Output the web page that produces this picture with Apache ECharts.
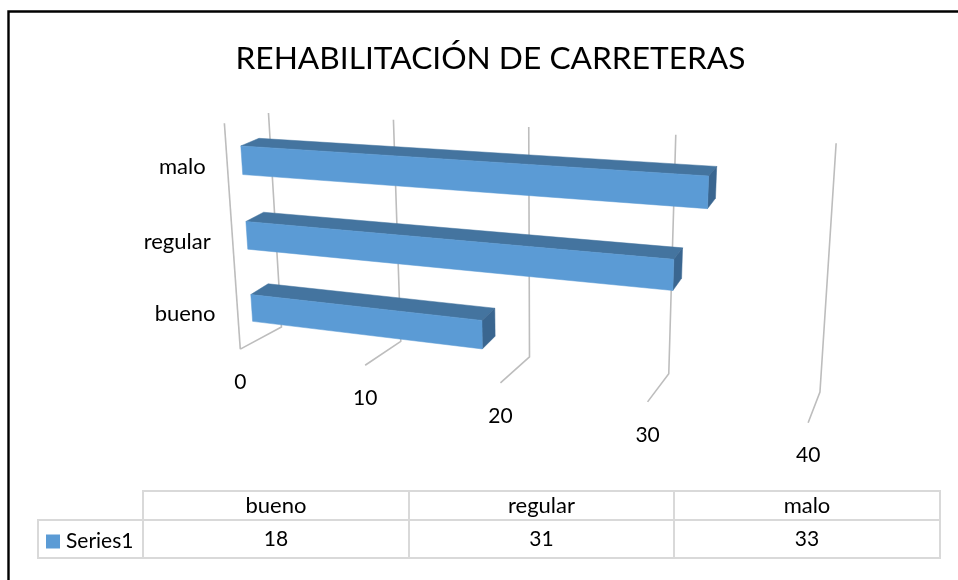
<!DOCTYPE html>
<html><head><meta charset="utf-8">
<style>html,body{margin:0;padding:0;background:#fff}#c{width:958px;height:580px}</style>
<script src="https://cdn.jsdelivr.net/npm/echarts@6/dist/echarts.min.js"></script>
</head><body><div id="c"></div>
<script>
var titleText = 'REHABILITACIÓN DE CARRETERAS';
var seriesName = 'Series1';
var categories = ['bueno', 'regular', 'malo'];
var values = [18, 31, 33];
var valueTicks = [0, 10, 20, 30, 40];
var FONT = 'Lato';
var TEXT = '#000000';
var GRID_LINE = '#BDBDBD';
var TABLE_LINE = '#D9D9D9';
var FRONT = '#5B9BD5', TOP = '#44749F', SIDE = '#3A6690';

// Camera calibration: [u, v, w, screenX, screenY]; u along value axis, v up, w into the depth
var calibration = [
  [0,0,0,240,349],[.25,0,0,365,366],[.5,0,0,500,383],[.75,0,0,648,402],[1,0,0,808,422],
  [0,0,1,282,326],[.25,0,1,401,342],[.5,0,1,529,357],[.75,0,1,669,374],[1,0,1,820,392],
  [0,1,1,268,113],[.25,1,1,393,120],[.5,1,1,529,127],[.75,1,1,676,135],[1,1,1,836,143],
  [0,1,0,225,123]
];
function fitCamera(pts){
  var n=11, A=[], i, j, k;
  for(i=0;i<n;i++){A.push(new Array(n+1).fill(0));}
  function add(r,b){for(var a=0;a<n;a++){for(var c=0;c<n;c++)A[a][c]+=r[a]*r[c];A[a][n]+=r[a]*b;}}
  pts.forEach(function(p){
    var u=p[0],v=p[1],w=p[2],x=p[3],y=p[4];
    add([u,v,w,1,0,0,0,0,-x*u,-x*v,-x*w],x);
    add([0,0,0,0,u,v,w,1,-y*u,-y*v,-y*w],y);
  });
  for(i=0;i<n;i++){
    var m=i;for(k=i+1;k<n;k++)if(Math.abs(A[k][i])>Math.abs(A[m][i]))m=k;
    var t=A[i];A[i]=A[m];A[m]=t;
    for(k=0;k<n;k++){if(k===i)continue;var f=A[k][i]/A[i][i];for(j=i;j<=n;j++)A[k][j]-=f*A[i][j];}
  }
  return A.map(function(r,i){return r[n]/r[i];});
}
var P = fitCamera(calibration);
function project(u,v,w){
  var d=P[8]*u+P[9]*v+P[10]*w+1;
  return [(P[0]*u+P[1]*v+P[2]*w+P[3])/d,(P[4]*u+P[5]*v+P[6]*w+P[7])/d];
}
// normalised position of a data pair through the hidden cartesian axes
function norm(api,params,val,cat){
  var c=api.coord([val,cat]),s=params.coordSys;
  return [(c[0]-s.x)/s.width,1-(c[1]-s.y)/s.height];
}
var BAR_W0=.32,BAR_W1=.74,BAR_FILL=.375,BAR_SHIFT=-.008,BAR_LIFT=.012;

function renderBar(params,api){
  var cat=api.value(0),val=api.value(1),s=params.coordSys;
  var a=norm(api,params,0,cat),b=norm(api,params,val,cat);
  var hb=api.size([0,1])[1]/s.height*BAR_FILL/2;
  var vc=a[1]+BAR_SHIFT,vt=vc+hb,vb=vc-hb,u0=a[0],u1=b[0],w0=BAR_W0,w1=BAR_W1,l=BAR_LIFT;
  function poly(pts,fill){return{type:'polygon',shape:{points:pts},style:{fill:fill,stroke:fill,lineWidth:.5}};}
  return {type:'group',children:[
    poly([project(u0,vt,w0),project(u0,vt+l,w1),project(u1,vt+l,w1),project(u1,vt,w0)],TOP),
    poly([project(u1,vt,w0),project(u1,vt+l,w1),project(u1,vb+l,w1),project(u1,vb,w0)],SIDE),
    poly([project(u0,vt,w0),project(u1,vt,w0),project(u1,vb,w0),project(u0,vb,w0)],FRONT)
  ]};
}
function renderTick(params,api){
  var t=api.value(0),u=norm(api,params,t,0)[0];
  var ff=project(u,0,0),bf=project(u,0,1),bt=project(u,1,1);
  var ls={stroke:GRID_LINE,lineWidth:1.6,fill:'none'};
  var kids=[{type:'polyline',shape:{points:[ff,bf,bt]},style:ls}];
  if(t===valueTicks[0]){kids.push({type:'line',shape:{x1:ff[0],y1:ff[1],x2:project(u,1,0)[0],y2:project(u,1,0)[1]},style:ls});}
  kids.push({type:'text',style:{text:String(t),x:ff[0],y:ff[1]+33,align:'center',verticalAlign:'middle',font:'21px '+FONT,fill:TEXT}});
  return {type:'group',children:kids};
}
function renderCat(params,api){
  var i=api.value(0),a=norm(api,params,0,i);
  var p=project(a[0],a[1],BAR_W0);
  return {type:'text',style:{text:categories[i],x:p[0]-36,y:p[1]+8,align:'right',verticalAlign:'middle',font:'22px '+FONT,fill:TEXT}};
}

// data table
var tX=[38,143,409,674,940], tY=[491,520,558];
var g=[];
function line(x1,y1,x2,y2){g.push({type:'line',shape:{x1:x1,y1:y1,x2:x2,y2:y2},style:{stroke:TABLE_LINE,lineWidth:2},silent:true});}
line(142,tY[0],941,tY[0]);line(37,tY[1],941,tY[1]);line(37,tY[2],941,tY[2]);
line(38,tY[1],38,tY[2]);tX.slice(1).forEach(function(x){line(x,tY[0],x,tY[2]);});
categories.forEach(function(c,i){
  var cx=(tX[i+1]+tX[i+2])/2;
  g.push({type:'text',style:{text:c,x:cx,y:(tY[0]+tY[1])/2,align:'center',verticalAlign:'middle',font:'22px '+FONT,fill:TEXT},silent:true});
  g.push({type:'text',style:{text:String(values[i]),x:cx,y:(tY[1]+tY[2])/2,align:'center',verticalAlign:'middle',font:'21px '+FONT,fill:TEXT},silent:true});
});
// chart frame: only the top and left edges fall inside the picture
g.push({type:'polyline',shape:{points:[[8.5,580],[8.5,11.5],[958,11.5]]},style:{stroke:'#000',lineWidth:2.4,fill:'none'},silent:true});

var chart=echarts.init(document.getElementById('c'),null,{renderer:'canvas'});
chart.setOption({
  animation:false,
  backgroundColor:'#fff',
  title:{text:titleText,left:485.5,top:38,textAlign:'center',textStyle:{fontFamily:FONT,fontSize:31.7,fontWeight:'normal',color:TEXT}},
  legend:{data:[seriesName],left:46,top:531,itemWidth:14,itemHeight:14,itemGap:0,icon:'rect',selectedMode:false,
    textStyle:{fontFamily:FONT,fontSize:21,color:TEXT,padding:[0,0,0,1]},padding:0},
  tooltip:{show:false},
  grid:{left:225,top:113,width:611,height:309},
  xAxis:{type:'value',min:0,max:40,interval:10,show:false},
  yAxis:{type:'category',data:categories,show:false},
  graphic:g,
  series:[
    {type:'custom',name:'grid',silent:true,renderItem:renderTick,data:valueTicks.map(function(t){return [t];}),encode:{x:0},z:1,clip:false},
    {type:'custom',name:'labels',silent:true,renderItem:renderCat,data:categories.map(function(c,i){return [i];}),encode:{y:0},z:2,clip:false},
    {type:'custom',name:seriesName,silent:true,renderItem:renderBar,itemStyle:{color:FRONT},
      data:values.map(function(v,i){return [i,v];}).reverse(),encode:{y:0,x:1},z:3,clip:false}
  ]
});
</script></body></html>
